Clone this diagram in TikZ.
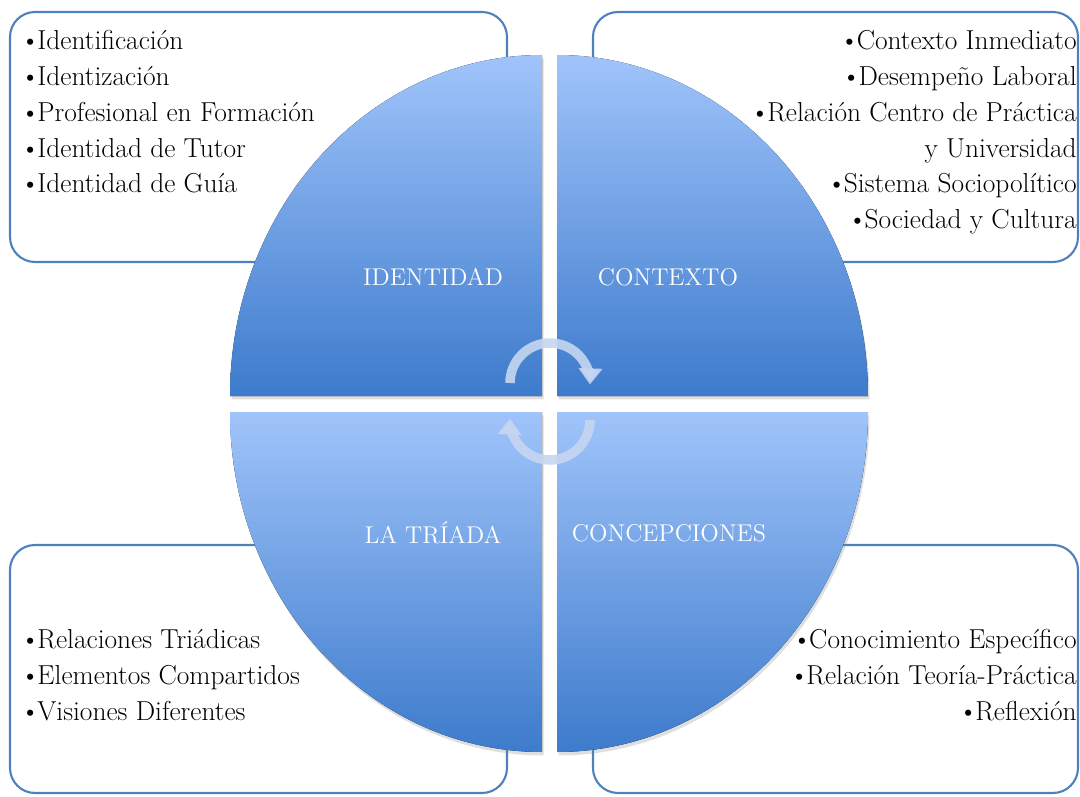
\documentclass[tikz,border=0pt]{standalone}
\usetikzlibrary{arrows.meta,shadows}

\definecolor{boxblue}{HTML}{4F81BD}
\definecolor{quarterlight}{HTML}{A0C4FA}
\definecolor{quarterdark}{HTML}{3D7BCC}
\definecolor{cyclecol}{HTML}{C6D6F0}

\begin{document}
\begin{tikzpicture}[x = 0.02cm, y = 0.02cm, > = {Triangle[width = 0.46cm, length = 0.32cm]},
	listbox/.style = {draw = boxblue, line width = 1.2pt, rounded corners = 0.5cm, fill = white},
	listtext/.style = {inner sep = 0pt, font = \fontsize{15.6}{20.4}\selectfont},
	quarter/.style = {top color = quarterlight, bottom color = quarterdark, draw = none,
		drop shadow = {opacity = 0.25, shadow xshift = 0.03cm, shadow yshift = -0.07cm}},
	quartertext/.style = {text = white, font = \fontsize{13.8}{18}\selectfont},
	cyclearrow/.style = {->, draw = cyclecol, line width = 0.19cm, opacity = 0.9}]

% Definitions

\def\bul{\textbullet\kern-1.5pt}

\useasboundingbox (0, 0) rectangle (1080, 796);

% List boxes

\draw [listbox] (10, 534) rectangle (507, 784);
\draw [listbox] (593, 534) rectangle (1078, 784);
\draw [listbox] (10, 3) rectangle (507, 251);
\draw [listbox] (593, 3) rectangle (1078, 251);

\node (idlist) [listtext, anchor = north west, align = left] at (20, 766) {%
	\bul Identificación\\
	\bul Identización\\
	\bul Profesional en Formación\\
	\bul Identidad de Tutor\\
	\bul Identidad de Guía};

\node (ctxlist) [listtext, anchor = north east, align = right] at (1077, 766) {%
	\bul Contexto Inmediato\\
	\bul Desempeño Laboral\\
	\bul Relación Centro de Práctica\\
	y Universidad\\
	\bul Sistema Sociopolítico\\
	\bul Sociedad y Cultura};

\node (trilist) [listtext, anchor = north west, align = left] at (20, 167) {%
	\bul Relaciones Triádicas\\
	\bul Elementos Compartidos\\
	\bul Visiones Diferentes};

\node (conlist) [listtext, anchor = north east, align = right] at (1077, 167) {%
	\bul Conocimiento Específico\\
	\bul Relación Teoría-Práctica\\
	\bul Reflexión};

% Quarter circles

\fill [quarter] (542, 400) -- (230, 400) arc [start angle = 180, end angle = 90, x radius = 312, y radius = 341] -- cycle;
\fill [quarter] (557, 400) -- (557, 741) arc [start angle = 90, end angle = 0, x radius = 311, y radius = 341] -- cycle;
\fill [quarter] (542, 384) -- (542, 44) arc [start angle = 270, end angle = 180, x radius = 312, y radius = 340] -- cycle;
\fill [quarter] (557, 384) -- (868, 384) arc [start angle = 0, end angle = -90, x radius = 311, y radius = 340] -- cycle;

\node (identidad) [quartertext] at (433, 519) {IDENTIDAD};
\node (contexto) [quartertext] at (668, 519) {CONTEXTO};
\node (triada) [quartertext] at (433, 263) {LA TRÍADA};
\node (concepciones) [quartertext] at (669, 263) {CONCEPCIONES};

% Cycle arrows

\draw [cyclearrow] (510, 413) arc [start angle = 180, end angle = -2, radius = 40];
\draw [cyclearrow] (590, 376) arc [start angle = 0, end angle = -182, radius = 40];

\end{tikzpicture}
\end{document}
